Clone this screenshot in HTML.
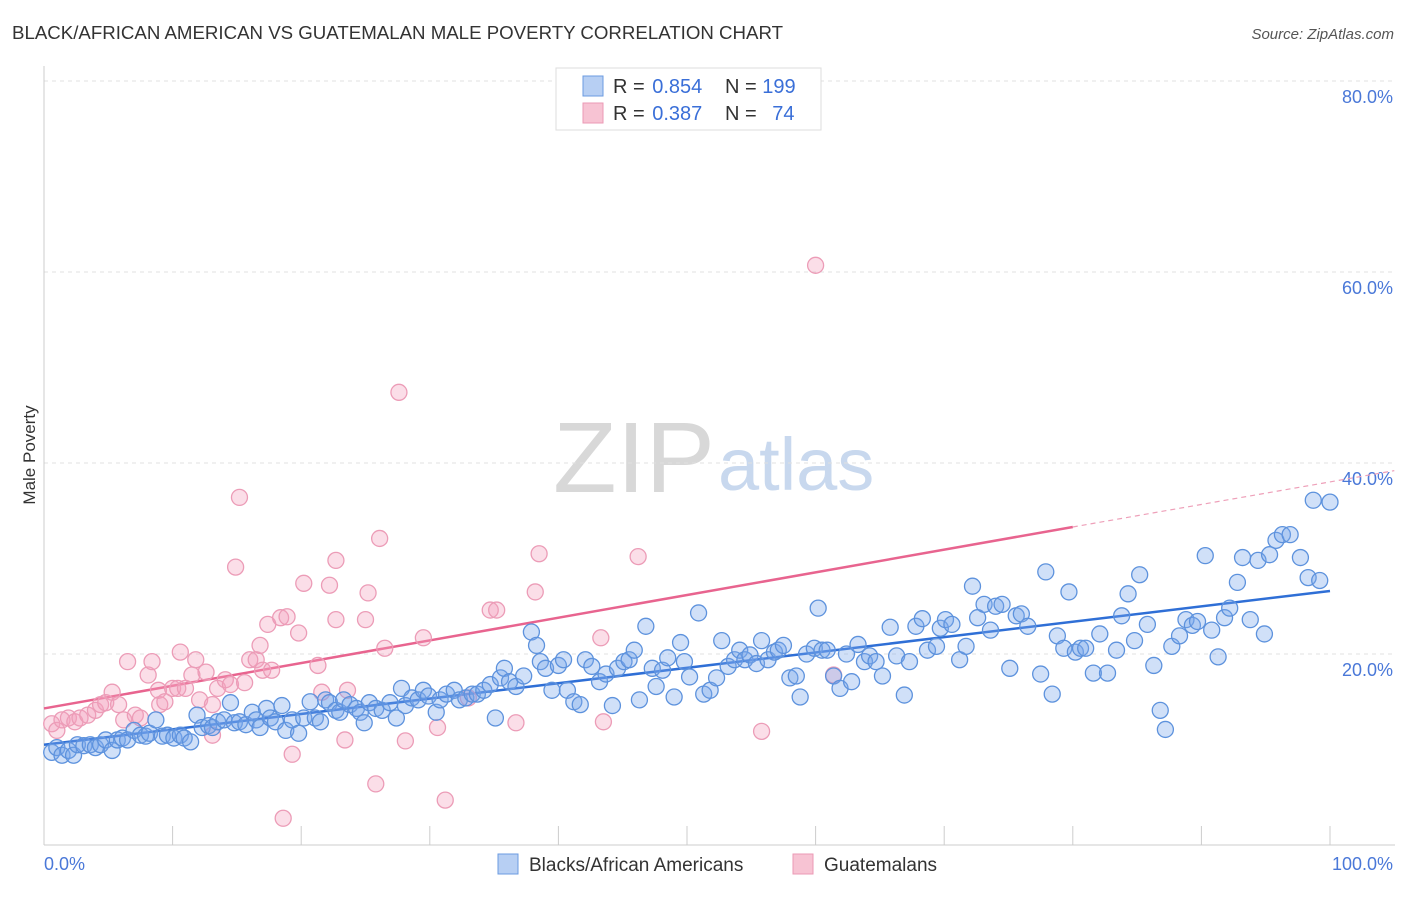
<!DOCTYPE html>
<html><head><meta charset="utf-8">
<style>
body{margin:0;background:#fff;font-family:"Liberation Sans",sans-serif;}
svg text{font-family:"Liberation Sans",sans-serif;}
</style></head>
<body>
<svg id="chart" width="1406" height="892" xmlns="http://www.w3.org/2000/svg">
<text x="12" y="39" font-size="18.7" fill="#333" textLength="771" lengthAdjust="spacingAndGlyphs">BLACK/AFRICAN AMERICAN VS GUATEMALAN MALE POVERTY CORRELATION CHART</text>
<text x="1394" y="39" font-size="15" fill="#555" font-style="italic" text-anchor="end">Source: ZipAtlas.com</text>
<g>
<text x="553" y="492" font-size="100" fill="#d8d8d8" font-family="Liberation Serif, serif" textLength="162" lengthAdjust="spacingAndGlyphs">ZIP</text>
<text x="718" y="490" font-size="74" fill="#c8d8ee">atlas</text>
</g>
<g id="grid"></g>
<g id="axes"></g>
<g id="lines"></g>
<g id="pts"></g>
<text x="35" y="455" font-size="17" fill="#333" text-anchor="middle" transform="rotate(-90 35 455)">Male Poverty</text>
<g>
<rect x="556" y="68" width="265" height="62" fill="#fff" stroke="#ddd"/>
<rect x="583" y="76" width="20" height="20" fill="#b7cff3" stroke="#6b9be0"/>
<rect x="583" y="103" width="20" height="20" fill="#f7c3d3" stroke="#eb9ab4"/>
<text x="613" y="93" font-size="20" fill="#333">R = <tspan fill="#3a6fd8" dx="2">0.854</tspan></text>
<text x="725" y="93" font-size="20" fill="#333">N = <tspan fill="#3a6fd8">199</tspan></text>
<text x="613" y="120" font-size="20" fill="#333">R = <tspan fill="#3a6fd8" dx="2">0.387</tspan></text>
<text x="725" y="120" font-size="20" fill="#333">N = <tspan fill="#3a6fd8" dx="10">74</tspan></text>
</g>
<g>
<rect x="498" y="854" width="20" height="20" fill="#b7cff3" stroke="#6b9be0"/>
<text x="529" y="871" font-size="19" fill="#333">Blacks/African Americans</text>
<rect x="793" y="854" width="20" height="20" fill="#f7c3d3" stroke="#eb9ab4"/>
<text x="824" y="871" font-size="19" fill="#333">Guatemalans</text>
</g>
</svg>
<script>
const yTicks=[20,40,60,80];
const xTickLabels=["0.0%","100.0%"];
const blueX=[0.6,1.0,1.4,1.9,2.3,2.6,3.1,3.6,4.0,4.4,4.8,5.3,5.7,6.1,6.5,7.0,7.5,7.9,8.2,8.7,9.2,9.6,10.1,10.6,10.9,11.4,11.9,12.3,12.8,13.1,13.5,14.0,14.5,14.8,15.2,15.7,16.2,16.5,16.8,17.3,17.6,18.0,18.5,18.8,19.3,19.8,20.2,20.7,21.1,21.5,21.9,22.2,22.7,23.0,23.3,23.8,24.3,24.6,24.9,25.3,25.8,26.3,26.9,27.4,27.8,28.1,28.6,29.1,29.5,29.9,30.5,30.8,31.3,31.9,32.3,32.8,33.3,33.7,34.2,34.7,35.1,35.5,35.8,36.2,36.7,37.3,37.9,38.3,38.6,39.0,39.5,40.0,40.4,40.7,41.2,41.7,42.1,42.6,43.2,43.7,44.2,44.6,45.1,45.5,45.9,46.3,46.8,47.3,47.6,48.1,48.5,49.0,49.5,49.8,50.2,50.9,51.3,51.8,52.3,52.7,53.2,53.7,54.1,54.5,54.9,55.4,55.8,56.3,56.8,57.1,57.5,58.0,58.5,58.8,59.3,59.9,60.2,60.5,60.9,61.4,61.9,62.4,62.8,63.3,63.8,64.2,64.7,65.2,65.8,66.3,66.9,67.3,67.8,68.3,68.7,69.4,69.7,70.1,70.6,71.2,71.7,72.2,72.6,73.1,73.6,74.0,74.5,75.1,75.6,76.0,76.5,77.5,77.9,78.4,78.8,79.3,79.7,80.2,80.6,81.0,81.6,82.1,82.7,83.4,83.8,84.3,84.8,85.2,85.8,86.3,86.8,87.2,87.7,88.3,88.8,89.3,89.7,90.3,90.8,91.3,91.8,92.2,92.8,93.2,93.8,94.4,94.9,95.3,95.8,96.3,96.9,97.7,98.3,98.7,99.2,100.0];
const blueY=[9.7,10.2,9.4,9.9,9.4,10.5,10.4,10.5,10.2,10.5,11.0,9.9,11.0,11.2,11.0,12.0,11.5,11.4,11.7,13.1,11.4,11.5,11.2,11.5,11.2,10.8,13.6,12.3,12.5,12.3,12.9,13.1,14.9,12.8,12.9,12.6,13.9,13.1,12.3,14.3,13.3,12.9,14.6,12.0,13.1,11.7,13.3,15.0,13.3,12.9,15.2,14.9,14.1,13.9,15.2,14.7,14.3,13.9,12.8,14.9,14.3,14.1,14.9,13.3,16.4,14.6,15.4,15.2,16.2,15.6,13.9,15.2,15.8,16.2,15.2,15.4,15.8,15.8,16.2,16.8,13.3,17.5,18.5,17.1,16.6,17.7,22.3,20.9,19.2,18.5,16.2,18.8,19.4,16.2,15.0,14.7,19.4,18.7,17.1,17.9,14.6,18.5,19.2,19.4,20.4,15.2,22.9,18.5,16.6,18.3,19.6,15.5,21.2,19.2,17.6,24.3,15.8,16.2,17.5,21.4,18.7,19.4,20.4,19.4,19.9,19.0,21.4,19.4,20.2,20.4,20.9,17.5,17.7,15.5,20.0,20.6,24.8,20.4,20.4,17.7,16.4,20.0,17.1,21.0,19.2,19.8,19.2,17.7,22.8,19.8,15.7,19.2,22.9,23.7,20.4,20.8,22.7,23.6,23.1,19.4,20.8,27.1,23.8,25.2,22.5,25.0,25.2,18.5,24.0,24.2,22.9,17.9,28.6,15.8,21.9,20.6,26.5,20.2,20.6,20.6,18.0,22.1,18.0,20.4,24.0,26.3,21.4,28.3,23.1,18.8,14.1,12.1,20.8,21.9,23.6,23.0,23.4,30.3,22.5,19.7,23.8,24.8,27.5,30.1,23.6,29.8,22.1,30.4,31.9,32.5,32.5,30.1,28.0,36.1,27.7,35.9];
const pinkX=[0.6,1.0,1.4,1.9,2.4,2.8,3.4,4.0,4.4,4.8,5.3,5.8,6.2,6.5,7.1,7.5,8.1,8.4,8.9,9.0,9.4,10.0,10.4,10.6,11.0,11.5,11.8,12.1,12.6,13.1,13.1,13.5,14.1,14.5,14.9,15.2,15.6,16.0,16.5,16.8,17.0,17.4,17.7,18.4,18.9,19.3,19.8,20.2,18.6,21.3,21.6,22.2,22.7,22.7,23.4,23.6,25.0,25.2,25.8,26.1,26.5,27.6,28.1,29.5,30.6,31.2,33.0,34.7,35.2,36.7,38.2,38.5,43.3,43.5,46.2,55.8,60.0,61.4];
const pinkY=[12.7,12.0,13.1,13.3,12.9,13.3,13.6,14.1,14.7,14.9,16.0,14.7,13.1,19.2,13.6,13.3,17.8,19.2,16.2,14.7,15.0,16.4,16.4,20.2,16.4,17.8,19.4,15.2,18.1,11.5,14.7,16.4,17.3,16.8,29.1,36.4,17.0,19.4,19.4,20.9,18.3,23.1,18.3,23.8,23.9,9.5,22.2,27.4,2.8,18.8,16.0,27.2,29.8,23.6,11.0,16.2,23.6,26.4,6.4,32.1,20.6,47.4,10.9,21.7,12.3,4.7,15.4,24.6,24.6,12.8,26.5,30.5,21.7,12.9,30.2,11.9,60.7,17.8];
const blueTrend=[10.5,26.6];
const pinkTrend=[14.3,33.3,39.2];

const NS="http://www.w3.org/2000/svg";
const X0=44,X1=1330,Y0=845,Y80=81;
const sx=v=>X0+(X1-X0)*v/100;
const sy=v=>Y0-(Y0-Y80)*v/80;
function mk(tag,attrs,parent){const e=document.createElementNS(NS,tag);for(const k in attrs)e.setAttribute(k,attrs[k]);parent.appendChild(e);return e;}
const grid=document.getElementById('grid'),axes=document.getElementById('axes'),lines=document.getElementById('lines'),pts=document.getElementById('pts');
yTicks.forEach(t=>{
 const l=mk('line',{x1:X0,x2:1395,y1:sy(t),y2:sy(t),stroke:'#e0e0e0','stroke-dasharray':'4,4'},grid);
 
 
 const tx=mk('text',{x:1393,y:sy(t)+22,'font-size':18,fill:'#4a78d8','text-anchor':'end'},axes);
 tx.textContent=t.toFixed(1)+'%';
 
 
});
const ax=mk('line',{x1:X0,x2:1395,y1:Y0,y2:Y0,stroke:'#ccc'},axes);


const ay=mk('line',{x1:X0,x2:X0,y1:66,y2:Y0,stroke:'#ccc'},axes);


for(let i=1;i<=10;i++){
 const tk=mk('line',{x1:sx(i*10),x2:sx(i*10),y1:826,y2:Y0,stroke:'#ccc'},axes);
 
 
}
const xl0=mk('text',{x:44,y:870,'font-size':18,fill:'#4a78d8'},axes);xl0.textContent=xTickLabels[0];


const xl1=mk('text',{x:1393,y:870,'font-size':18,fill:'#4a78d8','text-anchor':'end'},axes);xl1.textContent=xTickLabels[1];



function dots(xs,ys,fill,stroke,name){
 xs.forEach((x,i)=>{
  const c=mk('circle',{cx:sx(x),cy:sy(ys[i]),r:8,fill:fill,stroke:stroke,'stroke-width':1.3},pts);
  
  
 });
}
dots(pinkX,pinkY,'rgba(244,160,188,0.35)','#ec9cb7','point-guatemalan');
dots(blueX,blueY,'rgba(120,165,235,0.35)','#5d92dd','point-black-african-american');

const bl=mk('line',{x1:sx(0),y1:sy(blueTrend[0]),x2:sx(100),y2:sy(blueTrend[1]),stroke:'#2f6fd6','stroke-width':2.5},lines);


const pl=mk('line',{x1:sx(0),y1:sy(pinkTrend[0]),x2:sx(80),y2:sy(pinkTrend[1]),stroke:'#e8648f','stroke-width':2.5},lines);


const pd=mk('line',{x1:sx(80),y1:sy(pinkTrend[1]),x2:sx(105),y2:sy(pinkTrend[2]),stroke:'#eea0b9','stroke-width':1.2,'stroke-dasharray':'5,4'},lines);


</script>
</body></html>
